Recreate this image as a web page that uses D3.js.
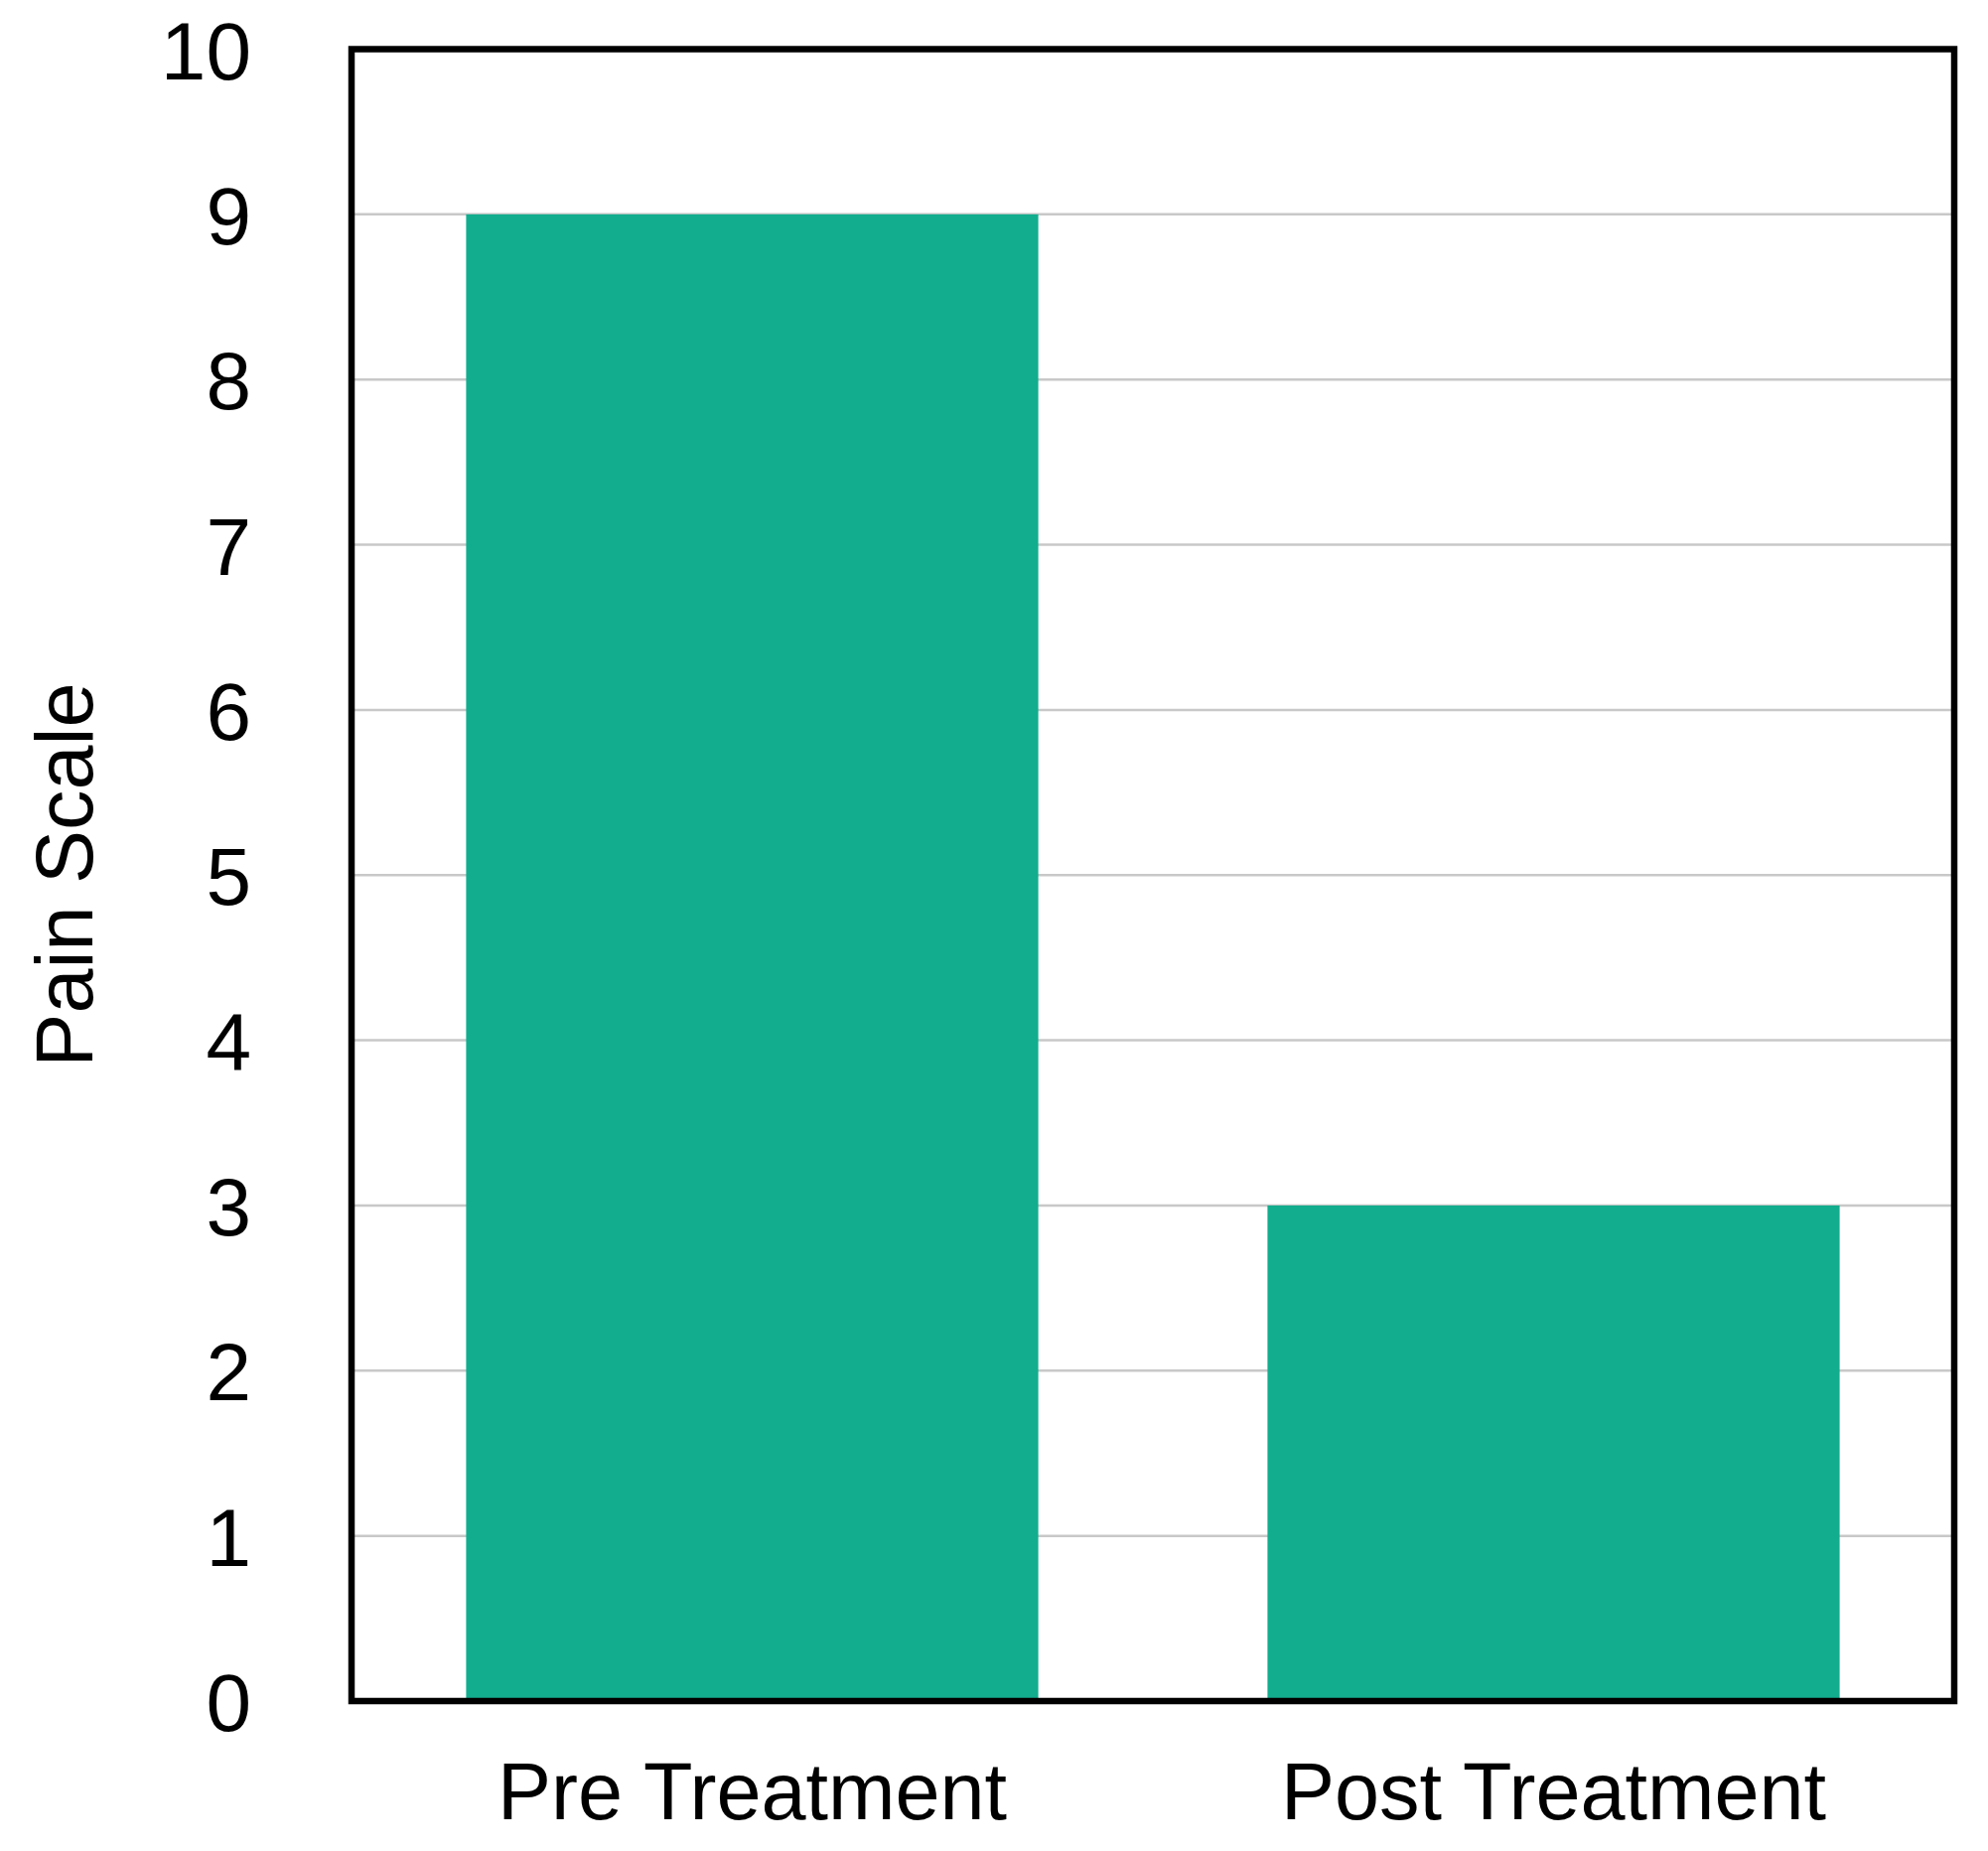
<!DOCTYPE html>
<html>
<head>
<meta charset="utf-8">
<script src="https://cdn.jsdelivr.net/npm/d3@7"></script>
<style>
html,body{margin:0;padding:0;background:#fff;}
svg{display:block;}
text{font-family:"Liberation Sans",Arial,Helvetica,sans-serif;fill:#000;}
</style>
</head>
<body>
<script>
const categories = ["Pre Treatment", "Post Treatment"];
const values = [9, 3];
const yTicks = [0,1,2,3,4,5,6,7,8,9,10];
const yTitle = "Pain Scale";

const W = 2002, H = 1864;
const m = {left: 354, right: 2002 - 1968, top: 49.5, bottom: 1864 - 1713};

const svg = d3.select("body").append("svg").attr("width", W).attr("height", H);

const x = d3.scaleBand().domain(categories).range([m.left, W - m.right])
  .paddingInner(0.286).paddingOuter(0.143);
const y = d3.scaleLinear().domain([0, 10]).range([H - m.bottom, m.top]);

// gridlines
svg.append("g").selectAll("line").data(yTicks.filter(d => d > 0 && d < 10)).join("line")
  .attr("x1", m.left).attr("x2", W - m.right)
  .attr("y1", d => y(d)).attr("y2", d => y(d))
  .attr("stroke", "#c8c8c8").attr("stroke-width", 2.5);

// bars
svg.append("g").selectAll("rect").data(categories).join("rect")
  .attr("x", d => x(d)).attr("width", x.bandwidth())
  .attr("y", (d, i) => y(values[i])).attr("height", (d, i) => y(0) - y(values[i]))
  .attr("fill", "#12ad8e");

// frame
svg.append("rect")
  .attr("x", m.left).attr("y", m.top)
  .attr("width", W - m.right - m.left).attr("height", H - m.bottom - m.top)
  .attr("fill", "none").attr("stroke", "#000").attr("stroke-width", 6.5);

// y axis labels
const yAxis = d3.axisLeft(y).tickValues(yTicks).tickSize(0).tickPadding(0).tickFormat(d3.format("d"));
const gy = svg.append("g").attr("transform", `translate(253,0)`).call(yAxis);
gy.select(".domain").remove();
gy.selectAll("text").attr("font-size", 82).attr("font-family", "Liberation Sans, Arial, sans-serif")
  .attr("fill", "#000").attr("dy", "0.36em");

// x axis labels
const xAxis = d3.axisBottom(x).tickSize(0).tickPadding(0);
const gx = svg.append("g").attr("transform", `translate(0,1832)`).call(xAxis);
gx.select(".domain").remove();
gx.selectAll("text").attr("font-size", 81).attr("font-family", "Liberation Sans, Arial, sans-serif")
  .attr("fill", "#000").attr("dy", 0).attr("y", 0);

// y title
svg.append("text")
  .attr("transform", `translate(93,881) rotate(-90)`)
  .attr("text-anchor", "middle")
  .attr("font-size", 81)
  .text(yTitle);
</script>
</body>
</html>
